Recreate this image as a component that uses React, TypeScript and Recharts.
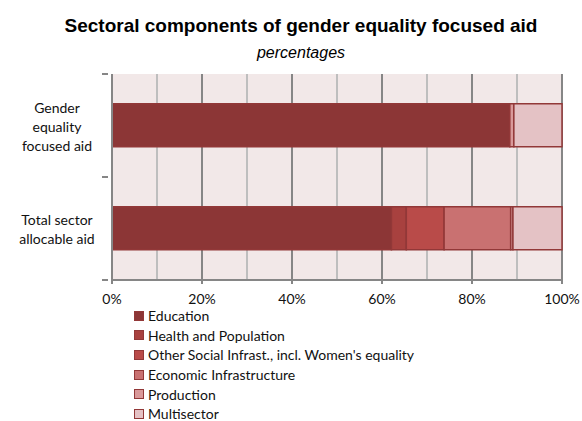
import React from 'react';
import { BarChart, Bar, XAxis, YAxis, CartesianGrid } from 'recharts';

const categories = ['Gender equality focused aid', 'Total sector allocable aid'];
const categoryLines = [['Gender', 'equality', 'focused aid'], ['Total sector', 'allocable aid']];

const education = [88.4, 62.1];
const health = [0, 3.3];
const otherSocial = [0, 8.4];
const economic = [0, 14.8];
const production = [0.9, 0.5];
const multisector = [10.7, 10.9];

const majorTicks = [0, 20, 40, 60, 80, 100];
const minorTicks = [10, 30, 50, 70, 90];

const series = [
  { key: 'education', name: 'Education', values: education, color: '#8c3636' },
  { key: 'health', name: 'Health and Population', values: health, color: '#a8413f' },
  { key: 'otherSocial', name: "Other Social Infrast., incl. Women's equality", values: otherSocial, color: '#b94b49' },
  { key: 'economic', name: 'Economic Infrastructure', values: economic, color: '#c97171' },
  { key: 'production', name: 'Production', values: production, color: '#d9999a' },
  { key: 'multisector', name: 'Multisector', values: multisector, color: '#e4c2c5' },
];

const data = categories.map((c, i) => {
  const row: Record<string, any> = { category: c };
  series.forEach((s) => (row[s.key] = s.values[i]));
  return row;
});

const FONT = 'Lato, "DejaVu Sans", sans-serif';
const AXIS = '#868686';
const EDGE = '#923838';

const CategoryTick = (props: any) => {
  const { x, y, payload, index } = props;
  const lines = categoryLines[index] || [payload.value];
  const lh = 19;
  const start = y - ((lines.length - 1) * lh) / 2;
  const half = payload.offset || 0;
  return (
    <g>
      <text x={x - 47} y={start} textAnchor="middle" dominantBaseline="central" fontFamily={FONT} fontSize={14} fill="#111">
        {lines.map((l: string, i: number) => (
          <tspan key={i} x={x - 47} y={start + i * lh}>
            {l}
          </tspan>
        ))}
      </text>
      <line x1={x - 2} x2={x + 4} y1={y - half} y2={y - half} stroke={AXIS} strokeWidth={2} />
      <line x1={x - 2} x2={x + 4} y1={y + half} y2={y + half} stroke={AXIS} strokeWidth={2} />
    </g>
  );
};

export default function App() {
  return (
    <div style={{ position: 'relative', width: 582, height: 421, background: '#fff', overflow: 'hidden' }}>
      <style>{`body{margin:0}`}</style>
      <div
        style={{
          position: 'absolute',
          left: 0,
          top: 14,
          width: 602,
          textAlign: 'center',
          fontFamily: '"Liberation Sans", Arial, sans-serif',
          fontWeight: 'bold',
          fontSize: 19,
          color: '#000',
          lineHeight: '24px',
        }}
      >
        Sectoral components of gender equality focused aid
      </div>
      <div
        style={{
          position: 'absolute',
          left: 0,
          top: 42,
          width: 602,
          textAlign: 'center',
          fontFamily: '"Liberation Sans", Arial, sans-serif',
          fontStyle: 'italic',
          fontSize: 16,
          color: '#000',
          lineHeight: '22px',
        }}
      >
        percentages
      </div>
      <BarChart
        width={582}
        height={421}
        data={data}
        layout="vertical"
        barCategoryGap="29%"
        margin={{ top: 74, right: 20, left: 0, bottom: 111 }}
      >
        <CartesianGrid
          horizontal={false}
          verticalValues={minorTicks}
          stroke="#bebebe"
          strokeWidth={2}
          fill="#f2e8e8"
        />
        <CartesianGrid horizontal={false} verticalValues={majorTicks} stroke={AXIS} strokeWidth={2} />
        <XAxis
          type="number"
          domain={[0, 100]}
          ticks={majorTicks}
          tickFormatter={(v) => `${v}%`}
          height={30}
          axisLine={{ stroke: AXIS, strokeWidth: 2 }}
          tickLine={{ stroke: AXIS, strokeWidth: 2 }}
          tickSize={4}
          tickMargin={10}
          tick={{ fontFamily: FONT, fontSize: 14, fill: '#111' }}
          interval={0}
        />
        <YAxis
          type="category"
          dataKey="category"
          width={112}
          axisLine={{ stroke: AXIS, strokeWidth: 2 }}
          tickLine={false}
          tick={<CategoryTick />}
          interval={0}
        />
        {series.map((s) => (
          <Bar
            key={s.key}
            dataKey={s.key}
            name={s.name}
            stackId="a"
            fill={s.color}
            stroke={EDGE}
            strokeWidth={1.5}
            isAnimationActive={false}
          />
        ))}
      </BarChart>
      <div style={{ position: 'absolute', left: 134, top: 306, fontFamily: FONT, fontSize: 14, color: '#111' }}>
        {series.map((s) => (
          <div key={s.key} style={{ display: 'flex', alignItems: 'center', height: 19.6 }}>
            <span
              style={{
                display: 'inline-block',
                width: 8,
                height: 8,
                background: s.color,
                border: `1.5px solid ${EDGE}`,
                marginRight: 4,
              }}
            />
            <span>{s.name}</span>
          </div>
        ))}
      </div>
    </div>
  );
}
